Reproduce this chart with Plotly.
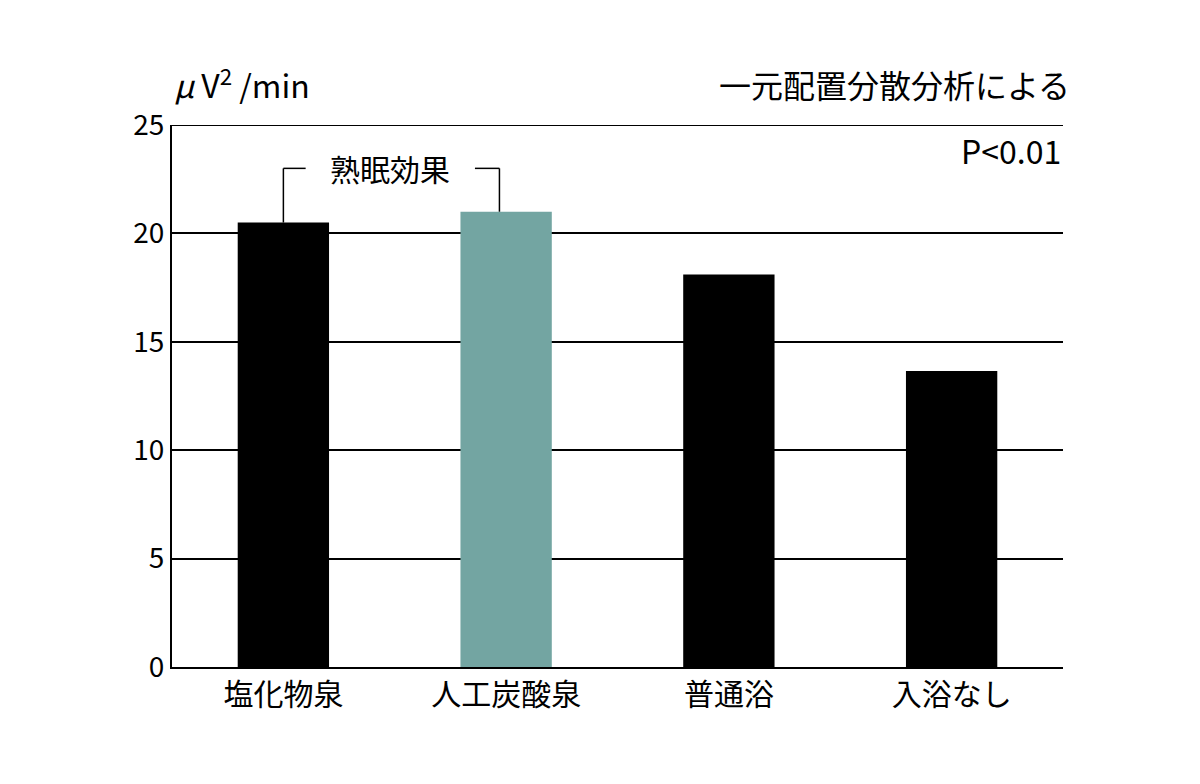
import plotly.graph_objects as go

categories = ["塩化物泉", "人工炭酸泉", "普通浴", "入浴なし"]
values = [20.5, 21.0, 18.1, 13.65]
colors = ["#000000", "#73a5a2", "#000000", "#000000"]
yticks = [0, 5, 10, 15, 20, 25]

F = "Noto Sans CJK JP"
fig = go.Figure(go.Bar(x=list(range(len(categories))), y=values, marker_color=colors,
                       marker_line_width=0, width=0.41))
fig.update_layout(
    width=1200, height=784, margin=dict(l=164, r=145, t=117, b=125),
    plot_bgcolor="white", paper_bgcolor="white", showlegend=False,
    font=dict(family=F, color="black", size=26),
    xaxis=dict(range=[-0.5, 3.5], tickvals=list(range(4)), ticktext=categories,
               showgrid=False, showline=True, linecolor="black", linewidth=2,
               ticks="", tickfont=dict(size=30)),
    yaxis=dict(range=[0, 25], tickvals=yticks, showgrid=True, gridcolor="black", gridwidth=2,
               showline=True, linecolor="black", linewidth=2, ticks="", zeroline=False,
               tickfont=dict(size=28)),
)
fig.add_shape(type="line", xref="paper", x0=0, x1=1, y0=25, y1=25, line=dict(color="black", width=2))
# bracket
line = dict(color="black", width=1.5)
fig.add_shape(type="line", x0=0, x1=0, y0=values[0], y1=23, line=line)
fig.add_shape(type="line", x0=0, x1=0.1, y0=23, y1=23, line=line)
fig.add_shape(type="line", x0=0.86, x1=0.97, y0=23, y1=23, line=line)
fig.add_shape(type="line", x0=0.97, x1=0.97, y0=23, y1=values[1], line=line)
fig.add_annotation(x=0.48, y=23, text="熟眠効果", showarrow=False, font=dict(size=30))
fig.add_annotation(xref="paper", yref="paper", x=0.0, y=1.03, xanchor="left", yanchor="bottom",
                   text="<i>μ</i> V<sup>2</sup> /min", showarrow=False, font=dict(size=32))
fig.add_annotation(xref="paper", yref="paper", x=1.01, y=1.03, xanchor="right", yanchor="bottom",
                   text="一元配置分散分析による", showarrow=False, font=dict(size=32))
fig.add_annotation(xref="paper", yref="paper", x=1.0, y=1.0, xanchor="right", yanchor="top",
                   text="P<0.01", showarrow=False, font=dict(size=32))
fig.write_html("out.html")
